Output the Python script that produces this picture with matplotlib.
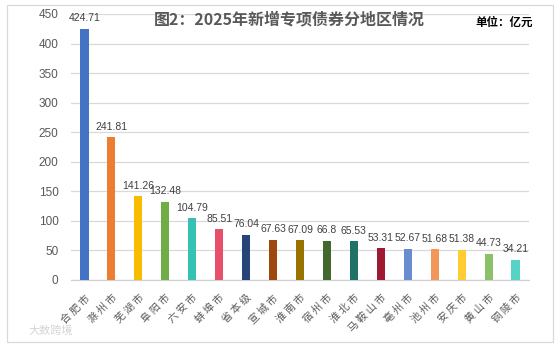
import matplotlib
matplotlib.use("Agg")
import matplotlib.pyplot as plt
from matplotlib.patches import Rectangle

regions = ["合肥市", "滁州市", "芜湖市", "阜阳市", "六安市", "蚌埠市", "省本级", "宣城市",
           "淮南市", "宿州市", "淮北市", "马鞍山市", "亳州市", "池州市", "安庆市", "黄山市", "铜陵市"]
values = [424.71, 241.81, 141.26, 132.48, 104.79, 85.51, 76.04, 67.63,
          67.09, 66.8, 65.53, 53.31, 52.67, 51.68, 51.38, 44.73, 34.21]
value_labels = ["424.71", "241.81", "141.26", "132.48", "104.79", "85.51", "76.04", "67.63",
                "67.09", "66.8", "65.53", "53.31", "52.67", "51.68", "51.38", "44.73", "34.21"]
colors = ["#4472C4", "#ED7D31", "#F7BC00", "#70AD47", "#35C1B3", "#E6506A", "#264478", "#9E480E",
          "#997300", "#43682B", "#1F7268", "#9C1B30", "#698ED0", "#F1975A", "#FFCD33", "#8CC168", "#55D3C6"]
yticks = [0, 50, 100, 150, 200, 250, 300, 350, 400, 450]

title = "图2：2025年新增专项债券分地区情况"
unit = "单位：亿元"

cjk = ["Noto Sans CJK SC", "DejaVu Sans"]
lat = ["Liberation Sans", "DejaVu Sans"]

fig = plt.figure(figsize=(5.6, 3.51), dpi=100)
fig.patch.set_facecolor("white")
ax = fig.add_axes([71/560, 1 - 280/351, (529-71)/560, (280-14)/351])

x = list(range(len(regions)))
ax.bar(x, values, width=0.3, color=colors, zorder=3)

for xi, v, lab in zip(x, values, value_labels):
    ax.annotate(lab, (xi, v), xytext=(0, 4), textcoords="offset points",
                ha="center", va="bottom", fontsize=7.5, color="#404040", family=lat)

ax.set_xlim(-0.5, len(regions) - 0.5)
ax.set_ylim(0, 450)
ax.set_yticks(yticks)
ax.set_yticklabels([str(t) for t in yticks], fontsize=8.5, color="#595959", family=lat)
ax.set_xticks(x)
ax.set_xticklabels([" ".join(r) for r in regions], rotation=45, ha="right", va="top",
                   rotation_mode="anchor", fontsize=7.5, color="#595959", family=cjk)
ax.tick_params(axis="both", length=0)
ax.tick_params(axis="y", pad=9)
ax.tick_params(axis="x", pad=9)

ax.grid(axis="y", color="#D9D9D9", linewidth=0.9, zorder=0)
for s in ["top", "right", "left"]:
    ax.spines[s].set_visible(False)
ax.spines["bottom"].set_color("#D0D0D0")
ax.spines["bottom"].set_linewidth(0.9)

fig.text(289/560, 1 - 19.5/351, title, ha="center", va="center", fontsize=11.5,
         fontweight="bold", color="#595959", family=cjk)
fig.text(504/560, 1 - 22/351, unit, ha="center", va="center", fontsize=8.3,
         fontweight="bold", color="#000000", family=cjk)
fig.text(28/560, 1 - 331/351, "大数跨境", ha="left", va="center", fontsize=8,
         color="#D5D5D5", family=cjk)

fig.patches.append(Rectangle((7/560, 1 - 342/351), (553-7)/560, (342-5)/351,
                             transform=fig.transFigure, fill=False,
                             edgecolor="#D9D9D9", linewidth=0.9))

fig.savefig("out.png", dpi=100)
